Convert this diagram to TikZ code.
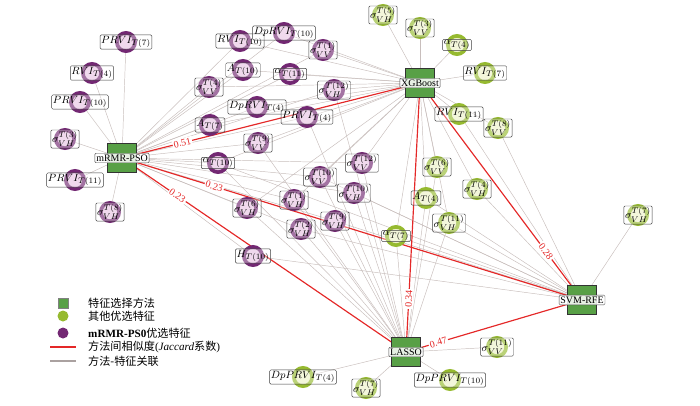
\documentclass[tikz,border=0pt]{standalone}
\usepackage{fontspec}
\setmainfont{Liberation Serif}
\newfontfamily\cjk{Noto Sans CJK SC}
\usetikzlibrary{backgrounds}

\definecolor{methodgreen}{RGB}{88,160,70}
\definecolor{featpurple}{RGB}{115,40,115}
\definecolor{featpink}{RGB}{232,198,228}
\definecolor{limegreen}{RGB}{150,186,48}
\definecolor{limepale}{RGB}{238,242,200}
\definecolor{edgegray}{RGB}{200,190,188}
\definecolor{jaccred}{RGB}{228,40,40}

\begin{document}
\begin{tikzpicture}[x=0.3mm, y=-0.3mm,
	method/.style={draw=black!80, fill=methodgreen, minimum size=8.7mm, inner sep=0pt, label={[mlab]center:#1}},
	mlab/.style={draw=black!70, fill=white, fill opacity=0.85, text opacity=1, rounded corners=1pt, inner sep=1.2pt, font=\fontsize{8.5}{9}\selectfont},
	pfeat/.style={circle, draw=featpurple, line width=1.1mm, fill=featpink, minimum size=5.5mm, inner sep=0pt, label={[flab]center:$#1$}},
	gfeat/.style={circle, draw=limegreen, line width=1.1mm, fill=limepale, minimum size=5.5mm, inner sep=0pt, label={[flab]center:$#1$}},
	flab/.style={draw=black!75, fill=white, fill opacity=0.35, text opacity=1, rounded corners=1pt, inner sep=1pt, font=\fontsize{9.5}{10}\selectfont},
	featline/.style={draw=edgegray, line width=0.4pt},
	jacline/.style={draw=jaccred, line width=1pt},
	jaclab/.style={sloped, fill=white, text=jaccred, inner sep=1pt, font=\fontsize{8.5}{9}\selectfont},
	legtext/.style={anchor=west, inner sep=0pt, font=\fontsize{9.5}{11}\selectfont}]
	\useasboundingbox (0,0) rectangle (700,405);
	
	% Methods
	\node[method=mRMR-PSO] (mrmr) at (122,158) {};
	\node[method=XGBoost] (xgb) at (420,83) {};
	\node[method=SVM-RFE] (svm) at (582,300) {};
	\node[method=LASSO] (lasso) at (406,352) {};
	
	% mRMR-PSO features
	\node[pfeat={PRVI_{T(7)}}] (pPRVI7) at (126,42) {};
	\node[pfeat={RVI_{T(4)}}] (pRVI4) at (92,73) {};
	\node[pfeat={PRVI_{T(10)}}] (pPRVI10) at (80,102) {};
	\node[pfeat={\sigma^{T(3)}_{VH}}] (pSVH3) at (65,139) {};
	\node[pfeat={PRVI_{T(11)}}] (pPRVI11) at (75,180) {};
	\node[pfeat={\sigma^{T(8)}_{VH}}] (pSVH8) at (110,212) {};
	\node[pfeat={RVI_{T(10)}}] (pRVI10) at (240,41) {};
	\node[pfeat={DpRVI_{T(10)}}] (pDpRVI10) at (284,33) {};
	\node[pfeat={\sigma^{T(1)}_{VV}}] (pSVV1) at (323,50) {};
	\node[pfeat={\sigma^{T(4)}_{VV}}] (pSVV4) at (209,87) {};
	\node[pfeat={A_{T(10)}}] (pA10) at (243,70) {};
	\node[pfeat={\alpha_{T(11)}}] (pAl11) at (290,74) {};
	\node[pfeat={\sigma^{T(12)}_{VH}}] (pSVH12) at (334,90) {};
	\node[pfeat={DpRVI_{T(4)}}] (pDpRVI4) at (257,107) {};
	\node[pfeat={A_{T(7)}}] (pA7) at (210,125) {};
	\node[pfeat={PRVI_{T(4)}}] (pPRVI4) at (307,117) {};
	\node[pfeat={\sigma^{T(9)}_{VV}}] (pSVV9) at (258,143) {};
	\node[pfeat={\alpha_{T(10)}}] (pAl10) at (218,163) {};
	\node[pfeat={\sigma^{T(12)}_{VV}}] (pSVV12) at (362,163) {};
	\node[pfeat={\sigma^{T(10)}_{VV}}] (pSVV10) at (320,177) {};
	\node[pfeat={\sigma^{T(10)}_{VH}}] (pSVH10) at (354,193) {};
	\node[pfeat={\sigma^{T(1)}_{VH}}] (pSVH1) at (294,200) {};
	\node[pfeat={\sigma^{T(6)}_{VH}}] (pSVH6) at (247,208) {};
	\node[pfeat={\sigma^{T(9)}_{VH}}] (pSVH9) at (335,221) {};
	\node[pfeat={\sigma^{T(2)}_{VH}}] (pSVH2) at (301,229) {};
	\node[pfeat={H_{T(10)}}] (pH10) at (253,256) {};
	
	% Other selected features
	\node[gfeat={\sigma^{T(5)}_{VH}}] (gSVH5) at (383,15) {};
	\node[gfeat={\sigma^{T(3)}_{VV}}] (gSVV3) at (420,28) {};
	\node[gfeat={\alpha_{T(4)}}] (gAl4) at (457,45) {};
	\node[gfeat={RVI_{T(7)}}] (gRVI7) at (485,73) {};
	\node[gfeat={RVI_{T(11)}}] (gRVI11) at (459,114) {};
	\node[gfeat={\sigma^{T(8)}_{VV}}] (gSVV8) at (498,128) {};
	\node[gfeat={\sigma^{T(6)}_{VV}}] (gSVV6) at (437,167) {};
	\node[gfeat={\sigma^{T(4)}_{VH}}] (gSVH4) at (477,189) {};
	\node[gfeat={A_{T(4)}}] (gA4) at (426,198) {};
	\node[gfeat={\sigma^{T(11)}_{VH}}] (gSVH11) at (449,223) {};
	\node[gfeat={\alpha_{T(7)}}] (gAl7) at (396,236) {};
	\node[gfeat={\sigma^{T(7)}_{VH}}] (gSVH7a) at (638,215) {};
	\node[gfeat={\sigma^{T(11)}_{VV}}] (gSVV11) at (497,347) {};
	\node[gfeat={DpPRVI_{T(4)}}] (gDpPRVI4) at (303,377) {};
	\node[gfeat={\sigma^{T(7)}_{VH}}] (gSVH7) at (366,388) {};
	\node[gfeat={DpPRVI_{T(10)}}] (gDpPRVI10) at (450,380) {};
	
	\begin{pgfonlayer}{background}
		% method - feature links
		\foreach \f in {pPRVI7,pRVI4,pPRVI10,pSVH3,pPRVI11,pSVH8,pRVI10,pDpRVI10,pSVV1,pSVV4,pA10,pAl11,pSVH12,pDpRVI4,pA7,pPRVI4,pSVV9,pAl10,pSVV12,pSVV10,pSVH10,pSVH1,pSVH6,pSVH9,pSVH2,pH10} {
			\draw[featline] (mrmr) -- (\f);
		}
		\foreach \f in {pRVI10,pDpRVI10,pSVV1,pSVV4,pA10,pAl11,pSVH12,pDpRVI4,pA7,pPRVI4,pSVV9,pAl10,pSVV10,pSVH1,pSVH6,pSVV12,gSVH5,gSVV3,gAl4,gRVI7,gRVI11,gSVV8,gSVV6,gA4,gSVH4,gSVH11,gAl7} {
			\draw[featline] (xgb) -- (\f);
		}
		\foreach \f in {pSVV9,pSVV10,pSVV12,pSVH10,pSVH1,pSVH9,pSVH2,pSVH6,pAl10,pSVH12,pPRVI4,gAl7,gA4,gSVV6,gSVH11,gSVV11,gDpPRVI4,gSVH7,gDpPRVI10} {
			\draw[featline] (lasso) -- (\f);
		}
		\foreach \f in {pH10,pSVH2,pSVH9,pAl10,pSVV10,pSVH10,gAl7,gA4,gSVH11,gSVH4,gRVI11,gSVV8,gSVH7a} {
			\draw[featline] (svm) -- (\f);
		}
		
		% Jaccard similarity
		\draw[jacline] (mrmr) -- node[jaclab, pos=0.17] {0.51} (xgb);
		\draw[jacline] (mrmr) -- node[jaclab, pos=0.18] {0.23} (svm);
		\draw[jacline] (mrmr) -- node[jaclab, pos=0.16] {0.23} (lasso);
		\draw[jacline] (xgb) -- node[jaclab, pos=0.84] {0.34} (lasso);
		\draw[jacline] (xgb) -- node[jaclab, pos=0.82] {0.28} (svm);
		\draw[jacline] (lasso) -- node[jaclab, pos=0.12] {0.47} (svm);
	\end{pgfonlayer}
	
	% Legend
	\node[draw=black!50, fill=methodgreen, minimum size=3mm, inner sep=0pt] (legmethod) at (63,303) {};
	\node[circle, fill=limegreen, minimum size=3.3mm, inner sep=0pt] (leglime) at (63,316) {};
	\node[circle, fill=featpurple, minimum size=3.3mm, inner sep=0pt] (legpurple) at (63,333) {};
	\coordinate (legreda) at (50,347);
	\coordinate (legredb) at (76,347);
	\coordinate (leggraya) at (50,361);
	\coordinate (leggrayb) at (76,361);
	\draw[jacline] (legreda) -- (legredb);
	\draw[draw=edgegray!85!black, line width=1pt] (leggraya) -- (leggrayb);
	\node[legtext] (legmethodtext) at (88,303) {\cjk 特征选择方法};
	\node[legtext] (leglimetext) at (88,316) {\cjk 其他优选特征};
	\node[legtext] (legpurpletext) at (88,333) {\textbf{mRMR-PS0}\cjk 优选特征};
	\node[legtext] (legredtext) at (88,347) {\cjk 方法间相似度{\rmfamily(\textit{Jaccard}}系数{\rmfamily)}};
	\node[legtext] (leggraytext) at (88,361) {\cjk 方法-特征关联};
\end{tikzpicture}
\end{document}
